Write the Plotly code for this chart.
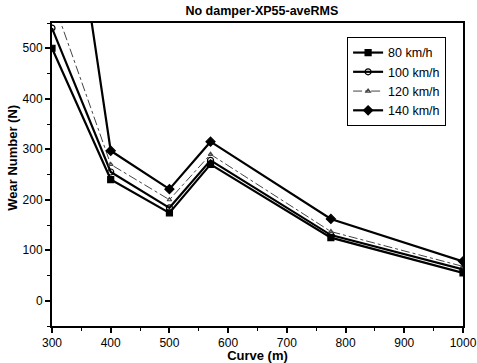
import plotly.graph_objects as go

curve = [300, 400, 500, 570, 775, 1000]
v80 = [500, 240, 174, 270, 125, 55]
v100 = [540, 255, 184, 278, 130, 62]
v120 = [600, 270, 200, 290, 137, 68]
v140 = [1080, 297, 221, 315, 162, 78]

series = [
    ("80 km/h", v80, "square", "black", "solid", 2.2, 6),
    ("100 km/h", v100, "circle-open", "black", "solid", 2.2, 6),
    ("120 km/h", v120, "triangle-up-open", "#444", "dashdot", 1, 4),
    ("140 km/h", v140, "diamond", "black", "solid", 2.2, 7),
]

fig = go.Figure()
for name, vals, sym, col, dash, w, ms in series:
    fig.add_trace(go.Scatter(
        x=curve, y=vals, name=name, mode="lines+markers",
        line=dict(color=col, width=w, dash=dash),
        marker=dict(symbol=sym, size=ms, color=col, line=dict(color=col, width=1.2)),
        cliponaxis=True,
    ))

font = "Liberation Sans, Arial, sans-serif"
fig.update_layout(
    width=477, height=363,
    margin=dict(l=52, r=14, t=23, b=37, autoexpand=False),
    paper_bgcolor="white", plot_bgcolor="white",
    font=dict(family=font, size=12, color="black"),
    title=dict(text="<b>No damper-XP55-aveRMS</b>", x=0.549, xanchor="center",
               y=0.972, yanchor="middle", font=dict(size=12.5)),
    showlegend=True,
    legend=dict(x=0.718, y=0.954, xanchor="left", yanchor="top",
                bordercolor="black", borderwidth=1, bgcolor="white",
                font=dict(size=12.5), tracegroupgap=0, itemwidth=30),
    annotations=[dict(text="<b>Wear Number (N)</b>", textangle=-90, xref="paper", yref="paper",
                      x=-0.095, y=0.555, xanchor="center", yanchor="middle",
                      showarrow=False, font=dict(size=13))],
    xaxis=dict(range=[300, 1000], tickvals=[300, 400, 500, 600, 700, 800, 900, 1000],
               automargin=False,
               showgrid=False, zeroline=False, showline=True, linecolor="black", linewidth=2,
               mirror=True, ticks="outside", ticklen=5, tickwidth=1.5, tickcolor="black",
               minor=dict(dtick=50, ticks="outside", ticklen=3, tickcolor="black", tickwidth=1),
               tickfont=dict(size=12),
               title=dict(text="<b>Curve (m)</b>", standoff=0, font=dict(size=13))),
    yaxis=dict(range=[-50, 550], tickvals=[0, 100, 200, 300, 400, 500],
               automargin=False,
               showgrid=False, zeroline=False, showline=True, linecolor="black", linewidth=2,
               mirror=True, ticks="outside", ticklen=5, tickwidth=1.5, tickcolor="black",
               minor=dict(dtick=50, ticks="outside", ticklen=3, tickcolor="black", tickwidth=1),
               tickfont=dict(size=12)),
)

fig.write_html("out.html")
